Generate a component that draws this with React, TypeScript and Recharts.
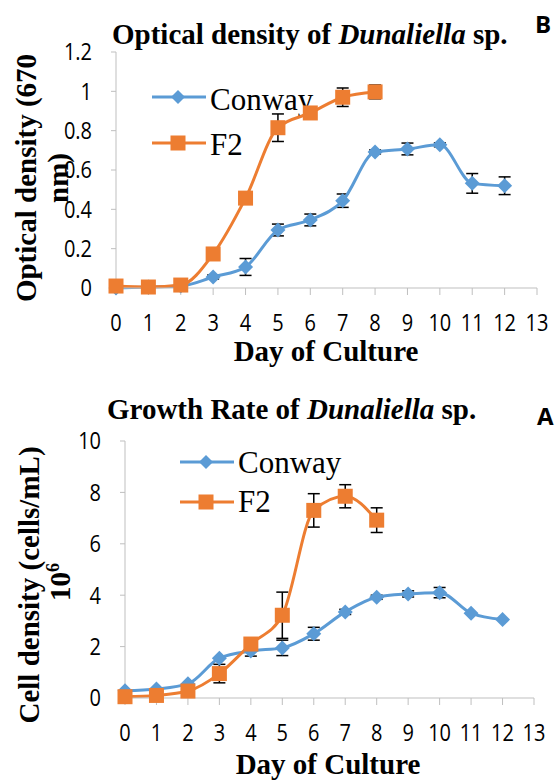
import React from 'react';
import { LineChart, Line, XAxis, YAxis, ErrorBar } from 'recharts';

// days of culture
const days = [0, 1, 2, 3, 4, 5, 6, 7, 8, 9, 10, 11, 12];
const dayTicks = [0, 1, 2, 3, 4, 5, 6, 7, 8, 9, 10, 11, 12, 13];

// B: optical density (670 nm)
const odConway = [0, 0.005, 0.01, 0.056, 0.107, 0.295, 0.346, 0.444, 0.692, 0.707, 0.728, 0.532, 0.52];
const odConwayErr = [0, 0, 0, 0.01, 0.043, 0.03, 0.03, 0.034, 0.01, 0.03, 0.01, 0.05, 0.045];
const odF2 = [0.01, 0.005, 0.015, 0.173, 0.457, 0.815, 0.89, 0.97, 0.997];
const odF2Err = [0, 0, 0, 0, 0, 0.07, 0.01, 0.047, 0.035];
const odTicks = [0, 0.2, 0.4, 0.6, 0.8, 1, 1.2];

// A: cell density (cells/mL x 10^6)
const cellConway = [0.28, 0.35, 0.55, 1.55, 1.83, 1.95, 2.5, 3.35, 3.92, 4.05, 4.1, 3.3, 3.05];
const cellConwayErr = [0, 0, 0, 0, 0.2, 0.3, 0.25, 0.1, 0.08, 0.12, 0.2, 0, 0];
const cellF2 = [0.05, 0.1, 0.27, 0.95, 2.1, 3.22, 7.3, 7.85, 6.92];
const cellF2Err = [0, 0, 0, 0.36, 0.2, 0.9, 0.65, 0.45, 0.48];
const cellTicks = [0, 2, 4, 6, 8, 10];

const BLUE = '#5B9BD5';
const ORANGE = '#ED7D31';
const AXIS = '#BFBFBF';
const SERIF = '"Liberation Serif", "Times New Roman", serif';
const SANS = '"Open Sans", sans-serif';

function buildRows(conway: number[], conwayErr: number[], f2: number[], f2Err: number[]) {
    return days.map((d, i) => ({
        day: d,
        conway: conway[i],
        conwayErr: conwayErr[i],
        f2: i < f2.length ? f2[i] : null,
        f2Err: i < f2Err.length ? f2Err[i] : 0,
    }));
}

const odRows = buildRows(odConway, odConwayErr, odF2, odF2Err);
const cellRows = buildRows(cellConway, cellConwayErr, cellF2, cellF2Err);

const diamondDot = (props: any) => {
    const { cx, cy, index } = props;
    if (cx == null || cy == null) return <g key={`dd-${index}`} />;
    const r = 7.5;
    return (
        <polygon key={`dd-${index}`} points={`${cx},${cy - r} ${cx + r},${cy} ${cx},${cy + r} ${cx - r},${cy}`} fill={BLUE} />
    );
};

const squareDot = (props: any) => {
    const { cx, cy, index } = props;
    if (cx == null || cy == null) return <g key={`sd-${index}`} />;
    const r = 7.5;
    return <rect key={`sd-${index}`} x={cx - r} y={cy - r} width={r * 2} height={r * 2} fill={ORANGE} />;
};

// Calibri-like tall digits: stretch the sans face a little vertically
const StretchTick = (props: any) => {
    const { x, y, payload, textAnchor, vertical } = props;
    return (
        <g transform={`translate(${x},${y}) scale(1,1.18)`}>
            <text x={0} y={0} dy={vertical ? '0.355em' : '0.71em'} textAnchor={textAnchor} fill="#000" fontSize={20} fontFamily={SANS}>
                {payload.value}
            </text>
        </g>
    );
};

function Panel({ rows, yTicks, yMax, top, height, plotTop, plotH, plotRight, yWidth }: any) {
    return (
        <div style={{ position: 'absolute', left: 0, top }}>
            <LineChart width={555} height={height} data={rows} margin={{ top: plotTop, right: plotRight, bottom: 0, left: 0 }}>
                <XAxis
                    dataKey="day"
                    type="number"
                    domain={[0, 13]}
                    ticks={dayTicks}
                    interval={0}
                    height={height - plotTop - plotH}
                    tickSize={7}
                    tickMargin={19}
                    stroke={AXIS}
                    tick={<StretchTick />}
                />
                <YAxis
                    type="number"
                    domain={[0, yMax]}
                    ticks={yTicks}
                    interval={0}
                    width={yWidth}
                    tickSize={5}
                    tickMargin={19}
                    stroke={AXIS}
                    tick={<StretchTick vertical />}
                />
                <Line type="monotone" dataKey="conway" stroke={BLUE} strokeWidth={3} dot={diamondDot} isAnimationActive={false}>
                    <ErrorBar dataKey="conwayErr" direction="y" width={6} stroke="#000" strokeWidth={1.5} />
                </Line>
                <Line type="monotone" dataKey="f2" stroke={ORANGE} strokeWidth={3} dot={squareDot} isAnimationActive={false}>
                    <ErrorBar dataKey="f2Err" direction="y" width={6} stroke="#000" strokeWidth={1.5} />
                </Line>
            </LineChart>
        </div>
    );
}

function LegendRow({ x, y, textX, text, baseline, kind }: any) {
    const color = kind === 'd' ? BLUE : ORANGE;
    const mx = x + 26;
    return (
        <g>
            <line x1={x} y1={y} x2={x + 54} y2={y} stroke={color} strokeWidth={3} />
            {kind === 'd' ? (
                <polygon points={`${mx},${y - 7} ${mx + 7},${y} ${mx},${y + 7} ${mx - 7},${y}`} fill={color} />
            ) : (
                <rect x={mx - 7.5} y={y - 7.5} width={15} height={15} fill={color} />
            )}
            <text x={textX} y={baseline} fontFamily={SERIF} fontSize={31} fill="#000">{text}</text>
        </g>
    );
}

export default function App() {
    return (
        <div style={{ position: 'absolute', left: 0, top: 0, width: 555, height: 780, background: '#fff', overflow: 'hidden' }}>
            <svg width={555} height={780} style={{ position: 'absolute', left: 0, top: 0 }}>
                {/* panel B */}
                <text x={112} y={44} fontFamily={SERIF} fontSize={29} fontWeight="bold" fill="#000">
                    Optical density of <tspan fontStyle="italic">Dunaliella</tspan> sp.
                </text>
                <text x={535} y={33} fontFamily={SANS} fontSize={24} fontWeight="bold" fill="#000">B</text>
                <text transform="translate(36,178) rotate(-90)" textAnchor="middle" fontFamily={SERIF} fontSize={29} fontWeight="bold" fill="#000">
                    Optical density (670
                </text>
                <text transform="translate(68,178) rotate(-90)" textAnchor="middle" fontFamily={SERIF} fontSize={29} fontWeight="bold" fill="#000">
                    nm)
                </text>
                <text x={326} y={361} textAnchor="middle" fontFamily={SERIF} fontSize={29} fontWeight="bold" fill="#000">Day of Culture</text>
                <LegendRow x={152} y={97} textX={210} baseline={110} text="Conway" kind="d" />
                <LegendRow x={152} y={143} textX={210} baseline={155} text="F2" kind="s" />

                {/* panel A */}
                <text x={107} y={419} fontFamily={SERIF} fontSize={29} fontWeight="bold" fill="#000">
                    Growth Rate of <tspan fontStyle="italic">Dunaliella</tspan> sp.
                </text>
                <text x={537} y={425} fontFamily={SANS} fontSize={24} fontWeight="bold" fill="#000">A</text>
                <text transform="translate(39,585) rotate(-90)" textAnchor="middle" fontFamily={SERIF} fontSize={29} fontWeight="bold" fill="#000">
                    Cell density (cells/mL)
                </text>
                <text transform="translate(70,582) rotate(-90)" textAnchor="middle" fontFamily={SERIF} fontSize={29} fontWeight="bold" fill="#000">
                    10<tspan fontSize={18} dy={-11}>6</tspan>
                </text>
                <text x={328} y={774} textAnchor="middle" fontFamily={SERIF} fontSize={29} fontWeight="bold" fill="#000">Day of Culture</text>
                <LegendRow x={180} y={462} textX={238} baseline={473} text="Conway" kind="d" />
                <LegendRow x={180} y={502} textX={238} baseline={512} text="F2" kind="s" />
            </svg>
            <Panel rows={odRows} yTicks={odTicks} yMax={1.2} top={0} height={340} plotTop={52} plotH={236} plotRight={18} yWidth={116} />
            <Panel rows={cellRows} yTicks={cellTicks} yMax={10} top={400} height={370} plotTop={41} plotH={257} plotRight={21} yWidth={125} />
        </div>
    );
}
